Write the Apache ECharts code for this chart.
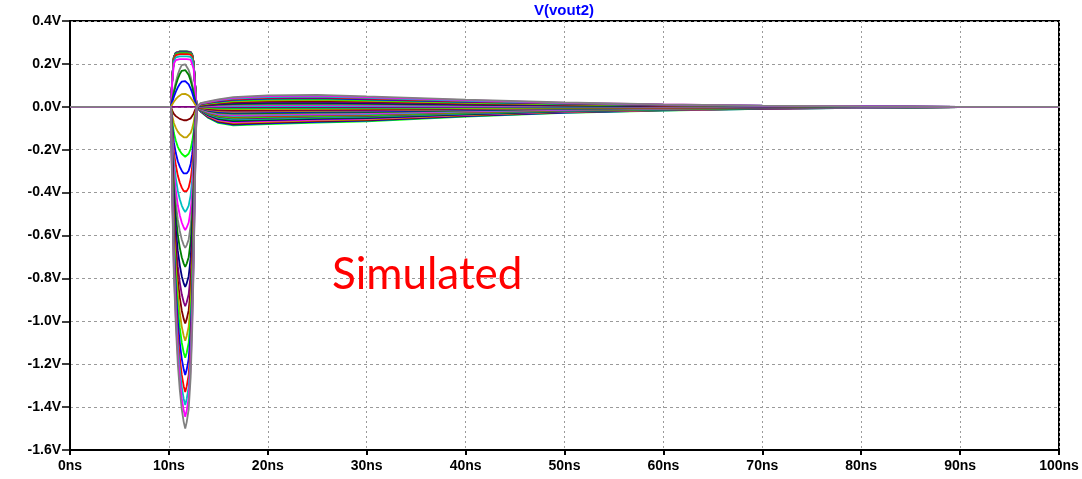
<!DOCTYPE html>
<html>
<head>
<meta charset="utf-8">
<title>V(vout2)</title>
<script src="https://cdn.jsdelivr.net/npm/echarts@6/dist/echarts.min.js"></script>
<style>
  html, body { margin: 0; padding: 0; background: #fff; }
  #chart { width: 1082px; height: 479px; }
</style>
</head>
<body>
<div id="chart"></div>
<script>
// Peak of each pulse (V), in the order the sweep draws them
const peakV = [
    0.258, 0.257, 0.257, 0.256, 0.256, 0.255, 0.254, 0.253, 0.252, 0.250,
    0.246, 0.235, 0.222, 0.200, 0.173, 0.121, 0.061,
    0,
    -0.064, -0.145, -0.233, -0.317, -0.401, -0.490, -0.574, -0.658, -0.746, -0.840,
    -0.930, -1.010, -1.090, -1.170, -1.250, -1.330, -1.390, -1.445, -1.500
];
// Level each trace settles at after the pulse (V)
const tailV = [
    -0.087, -0.083, -0.079, -0.075, -0.071, -0.067, -0.063, -0.059, -0.055, -0.051,
    -0.047, -0.043, -0.039, -0.035, -0.031, -0.027, -0.023, -0.019, -0.015, -0.011,
    -0.007, -0.003, 0.001, 0.004, 0.008, 0.012, 0.016, 0.020, 0.024, 0.028,
    0.032, 0.036, 0.040, 0.044, 0.048, 0.052, 0.056
];

// Pulse outline (ns) and its relative height
const pulseT = [10.2, 10.35, 10.5, 10.7, 10.9, 11.1, 11.3, 11.5, 11.65, 11.8, 12.0, 12.2, 12.35, 12.5, 12.65, 12.8];
const negShape = [0, 0.3, 0.52, 0.68, 0.8, 0.88, 0.94, 0.98, 1.0, 0.98, 0.94, 0.84, 0.7, 0.5, 0.22, 0];
const roundShape = [0, 0.2, 0.38, 0.58, 0.75, 0.88, 0.97, 1.0, 0.99, 0.96, 0.86, 0.7, 0.55, 0.36, 0.17, 0];
const flatShape = [0, 0.55, 0.9, 0.98, 1, 1, 1, 1, 1, 1, 1, 0.99, 0.95, 0.8, 0.4, 0];

// Slow tail after the pulse (ns) and its relative size
const tailT = [13.2, 14, 15, 16.5, 20, 25, 30, 40, 50, 60, 70, 80, 90, 95, 100];
const negDecay = [0.25, 0.6, 0.86, 1.0, 0.93, 0.84, 0.78, 0.52, 0.32, 0.2, 0.11, 0.055, 0.02, 0, 0];
const posDecay = [0.3, 0.45, 0.62, 0.8, 0.95, 1.0, 0.86, 0.59, 0.36, 0.21, 0.1, 0.035, 0, 0, 0];

const xTicks = [0, 10, 20, 30, 40, 50, 60, 70, 80, 90, 100];
const yTicks = [0.4, 0.2, 0.0, -0.2, -0.4, -0.6, -0.8, -1.0, -1.2, -1.4, -1.6];

// LTspice trace colours
const C = {
    green: '#00ff00', blue: '#0000ff', red: '#ff0000', cyan: '#00c0c0',
    magenta: '#ff00ff', gray: '#808080', dkgreen: '#008000', dkblue: '#000080',
    purple: '#800080', dkred: '#800000', olive: '#c0a000'
};
const traceColors = [
    C.green, C.blue, C.dkred, C.olive, C.magenta, C.dkblue, C.dkgreen, C.cyan, C.purple, C.green,
    C.red, C.cyan, C.magenta, C.gray, C.dkgreen, C.blue, C.olive,
    C.purple,
    C.dkred, C.olive, C.green, C.blue, C.red, C.cyan, C.magenta, C.gray, C.dkgreen, C.dkblue,
    C.purple, C.dkred, C.olive, C.green, C.blue, C.red, C.cyan, C.magenta, C.gray
];

function traceData(i) {
    const p = peakV[i];
    const shape = p < 0 ? negShape : (p >= 0.22 ? flatShape : roundShape);
    const decay = tailV[i] < 0 ? negDecay : posDecay;
    const pts = [[0, 0]];
    pulseT.forEach((t, k) => pts.push([t, p * shape[k]]));
    tailT.forEach((t, k) => pts.push([t, tailV[i] * decay[k]]));
    return pts;
}

const series = peakV.map((p, i) => ({
    type: 'line',
    data: traceData(i),
    showSymbol: false,
    silent: true,
    lineStyle: { color: traceColors[i], width: 1.8 },
    z: 2
}));

const chart = echarts.init(document.getElementById('chart'));
const labelFont = { fontFamily: 'Liberation Sans', fontWeight: 'bold', fontSize: 14, color: '#000' };

chart.setOption({
    animation: false,
    backgroundColor: '#fff',
    grid: {
        left: 70, top: 21, width: 989, height: 429,
        show: true, borderColor: '#000', borderWidth: 2, backgroundColor: 'transparent'
    },
    xAxis: {
        type: 'value', min: xTicks[0], max: xTicks[xTicks.length - 1], interval: 10,
        axisLine: { onZero: false, lineStyle: { color: '#000', width: 2 } },
        axisTick: { show: true, length: 5, lineStyle: { color: '#000', width: 2 } },
        axisLabel: Object.assign({ margin: 9, formatter: v => v + 'ns' }, labelFont),
        splitLine: { show: true, lineStyle: { color: '#9a9a9a', width: 1, type: [2, 3] } }
    },
    yAxis: {
        type: 'value', min: yTicks[yTicks.length - 1], max: yTicks[0], interval: 0.2,
        axisLine: { show: true, onZero: false, lineStyle: { color: '#000', width: 2 } },
        axisTick: { show: true, length: 8, lineStyle: { color: '#000', width: 1.5 } },
        axisLabel: Object.assign({
            margin: 9,
            formatter: v => (Math.abs(v) < 1e-9 ? 0 : v).toFixed(1) + 'V'
        }, labelFont),
        splitLine: { show: true, lineStyle: { color: '#9a9a9a', width: 1, type: [3, 3] } }
    },
    graphic: [
        {
            type: 'text', x: 564, y: 11, z: 10,
            style: {
                text: 'V(vout2)', fill: '#0000ff', textAlign: 'center', textVerticalAlign: 'middle',
                font: 'bold 15px "Liberation Sans"'
            }
        },
        {
            type: 'text', x: 332, y: 275, z: 10,
            style: {
                text: 'Simulated', fill: '#ff0000', textAlign: 'left', textVerticalAlign: 'middle',
                font: '44px Lato'
            }
        }
    ],
    series: series
});
window.addEventListener('resize', chart.resize);
</script>
</body>
</html>
